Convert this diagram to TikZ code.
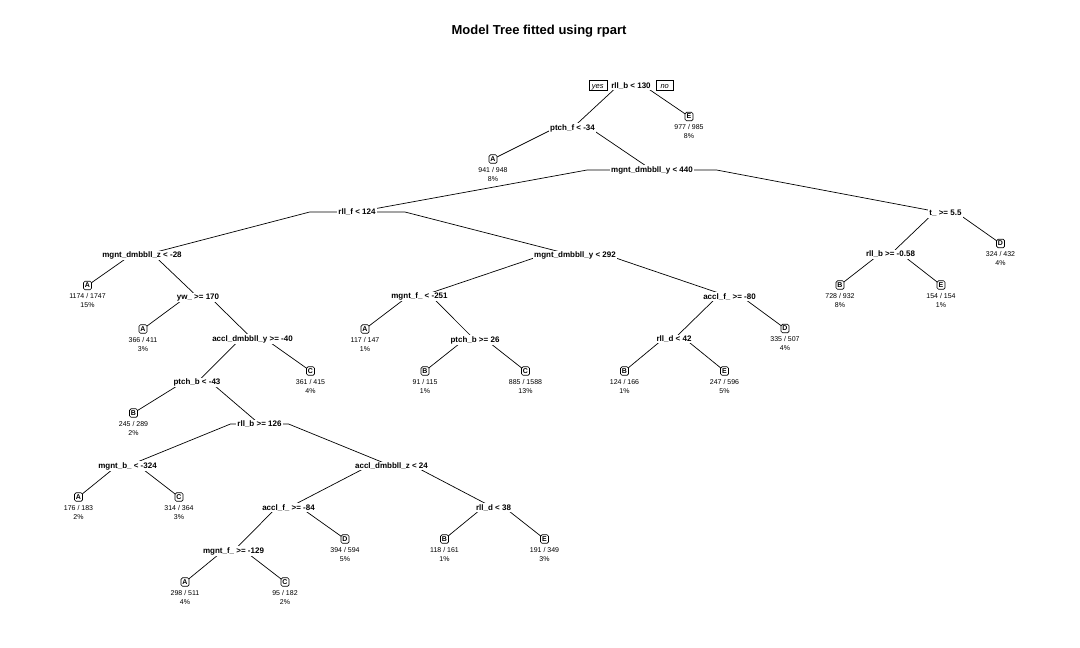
\documentclass[tikz,border=0pt]{standalone}
\usepackage{fontspec}
\setmainfont{Liberation Sans}
\usetikzlibrary{positioning,backgrounds,calc}

\begin{document}
\begin{tikzpicture}[x=1pt, y=-1pt,
    split/.style={font=\fontsize{8}{9}\selectfont\bfseries, fill=white, inner sep=1pt},
    leaf/.style={draw, line width=0.7pt, rounded corners=1.5pt, fill=white,
      font=\fontsize{7}{8}\selectfont\bfseries, inner sep=0.8pt,
      minimum width=8pt, minimum height=8.5pt},
    counts/.style={font=\fontsize{7}{8.7}\selectfont, align=center, inner sep=0pt},
    yesno/.style={draw, line width=0.6pt, font=\fontsize{7.5}{8}\selectfont\itshape,
      inner sep=0pt, text height=5.5pt, text depth=0.5pt, minimum height=10pt},
    branch/.style={line width=0.7pt}]
    \useasboundingbox (0,0) rectangle (1080,648);

    \node[font=\fontsize{13}{15}\selectfont\bfseries] (title) at (539,31) {Model Tree fitted using rpart};

    \foreach \id/\x/\y/\txt in {
        1/631/85.7/{rll\_b < 130},
        2/572.5/128/{ptch\_f < -34},
        5/652/170/{mgnt\_dmbbll\_y < 440},
        10/357/212/{rll\_f < 124},
        20/142/255.7/{mgnt\_dmbbll\_z < -28},
        41/198/297.3/{yw\_ >= 170},
        83/252.5/339/{accl\_dmbbll\_y >= -40},
        166/197/382.3/{ptch\_b < -43},
        333/259.5/424/{rll\_b >= 126},
        666/127.5/466/{mgnt\_b\_ < -324},
        667/391.5/466/{accl\_dmbbll\_z < 24},
        1334/288.5/507.7/{accl\_f\_ >= -84},
        2668/233.5/551/{mgnt\_f\_ >= -129},
        1335/493.5/507.7/{rll\_d < 38},
        21/575/255.7/{mgnt\_dmbbll\_y < 292},
        42/419.5/296.7/{mgnt\_f\_ < -251},
        85/475/340/{ptch\_b >= 26},
        43/729.5/296.7/{accl\_f\_ >= -80},
        86/674/339/{rll\_d < 42},
        11/945.5/213.3/{t\_ >= 5.5},
        22/890.5/254.3/{rll\_b >= -0.58}}
      \node[split] (n\id) at (\x,\y) {\txt};

    \foreach \id/\x/\y/\cls/\k/\pc in {
        3/689/116.5/E/{977 / 985}/8\%,
        4/493/159/A/{941 / 948}/8\%,
        23/1000.5/243.5/D/{324 / 432}/4\%,
        40/87.5/285.5/A/{1174 / 1747}/15\%,
        44/840/285/B/{728 / 932}/8\%,
        45/941/285/E/{154 / 154}/1\%,
        82/143/329/A/{366 / 411}/3\%,
        84/365/329/A/{117 / 147}/1\%,
        87/785/328.5/D/{335 / 507}/4\%,
        167/310.5/371/C/{361 / 415}/4\%,
        170/425/371/B/{91 / 115}/1\%,
        171/525.5/371/C/{885 / 1588}/13\%,
        172/624.5/371/B/{124 / 166}/1\%,
        173/724.5/371/E/{247 / 596}/5\%,
        332/133.5/413/B/{245 / 289}/2\%,
        1332/78.5/497/A/{176 / 183}/2\%,
        1333/179/497/C/{314 / 364}/3\%,
        2669/345/539/D/{394 / 594}/5\%,
        2670/444.5/539/B/{118 / 161}/1\%,
        2671/544.5/539/E/{191 / 349}/3\%,
        5336/185/582/A/{298 / 511}/4\%,
        5337/285/582/C/{95 / 182}/2\%}
    {
      \node[leaf] (n\id) at (\x,\y) {\cls};
      \node[counts, below=3.5pt of n\id] (c\id) {\k\\\pc};
    }

    \node[yesno, minimum width=18pt, left=3pt of n1] (yes) {yes};
    \node[yesno, minimum width=17pt, right=4pt of n1] (no) {no};

    \begin{scope}[on background layer]
      \foreach \c [evaluate=\c as \p using {int(floor(\c/2))}] in
          {2,3,4,5,10,11,20,21,22,23,40,41,42,43,44,45,82,83,84,85,86,87,
           166,167,170,171,172,173,332,333,666,667,1332,1333,1334,1335,
           2668,2669,2670,2671,5336,5337}
      {
        \path ($(n\p.center)!0.22!(n\c.center)$) coordinate (bend);
        \draw[branch] (n\p.center) -- (bend |- n\p.center) -- (n\c.center);
      }
    \end{scope}
\end{tikzpicture}
\end{document}
